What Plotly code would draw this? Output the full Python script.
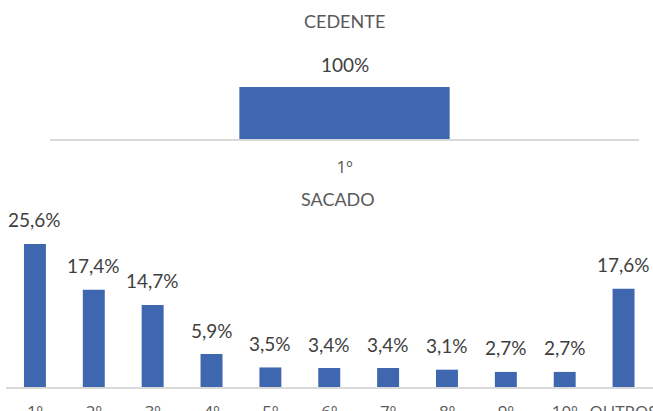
import plotly.graph_objects as go

# ---- data ----
cedente_cats = ["1º"]
cedente_vals = [100.0]
cedente_labels = ["100%"]

sacado_cats = ["1º", "2º", "3º", "4º", "5º", "6º", "7º", "8º", "9º", "10º", "OUTROS"]
sacado_vals = [25.6, 17.4, 14.7, 5.9, 3.5, 3.4, 3.4, 3.1, 2.7, 2.7, 17.6]
sacado_labels = ["25,6%", "17,4%", "14,7%", "5,9%", "3,5%", "3,4%", "3,4%", "3,1%", "2,7%", "2,7%", "17,6%"]

W, H = 653, 411
BAR_COLOR = "#3f67b0"
FONT = "Lato"
TICK_FONT = "Open Sans"
LABEL_COLOR = "#404040"
TEXT_GRAY = "#595959"
AXIS_LINE = "#d9d9d9"

def fy(px):
    return (H - px) / H

fig = go.Figure()

fig.add_trace(go.Bar(x=cedente_cats, y=cedente_vals, width=0.357,
                     marker=dict(color=BAR_COLOR, line=dict(width=0)),
                     xaxis="x", yaxis="y", hoverinfo="x+y", showlegend=False))
fig.add_trace(go.Bar(x=sacado_cats, y=sacado_vals, width=0.373,
                     marker=dict(color=BAR_COLOR, line=dict(width=0)),
                     xaxis="x2", yaxis="y2", hoverinfo="x+y", showlegend=False))

annotations = []
for c, v, t in zip(cedente_cats, cedente_vals, cedente_labels):
    annotations.append(dict(x=c, y=v, xref="x", yref="y", text=t, showarrow=False,
                            yanchor="middle", yshift=23,
                            font=dict(family=FONT, size=19, color=LABEL_COLOR)))
for c, v, t in zip(sacado_cats, sacado_vals, sacado_labels):
    annotations.append(dict(x=c, y=v, xref="x2", yref="y2", text=t, showarrow=False,
                            yanchor="middle", yshift=24,
                            font=dict(family=FONT, size=19, color=LABEL_COLOR)))

annotations.append(dict(text="CEDENTE", x=344.5 / W, y=fy(21), xref="paper", yref="paper",
                        showarrow=False, xanchor="center", yanchor="middle",
                        font=dict(family=FONT, size=18, color=TEXT_GRAY)))
annotations.append(dict(text="SACADO", x=338 / W, y=fy(199), xref="paper", yref="paper",
                        showarrow=False, xanchor="center", yanchor="middle",
                        font=dict(family=FONT, size=18, color=TEXT_GRAY)))

fig.update_layout(
    width=W, height=H,
    margin=dict(l=0, r=0, t=0, b=0, autoexpand=False),
    paper_bgcolor="white", plot_bgcolor="white",
    showlegend=False,
    annotations=annotations,
    xaxis=dict(domain=[50 / W, 639 / W], anchor="y", type="category", automargin=False,
               showline=True, linecolor=AXIS_LINE, linewidth=2, showgrid=False,
               ticks="outside", ticklen=12, tickcolor="rgba(0,0,0,0)",
               tickfont=dict(family=TICK_FONT, size=17, color=TEXT_GRAY), fixedrange=True),
    yaxis=dict(domain=[fy(139), fy(76.6)], anchor="x", range=[0, 120], visible=False,
               showgrid=False, zeroline=False, fixedrange=True),
    xaxis2=dict(domain=[5.5 / W, 1.0], anchor="y2", type="category", automargin=False,
                showline=True, linecolor=AXIS_LINE, linewidth=2, showgrid=False,
                ticks="outside", ticklen=9, tickcolor="rgba(0,0,0,0)",
                tickfont=dict(family=TICK_FONT, size=17, color=TEXT_GRAY), fixedrange=True),
    yaxis2=dict(domain=[fy(387), fy(219.4)], anchor="x2", range=[0, 30], visible=False,
                showgrid=False, zeroline=False, fixedrange=True),
)

fig.write_html("out.html")
